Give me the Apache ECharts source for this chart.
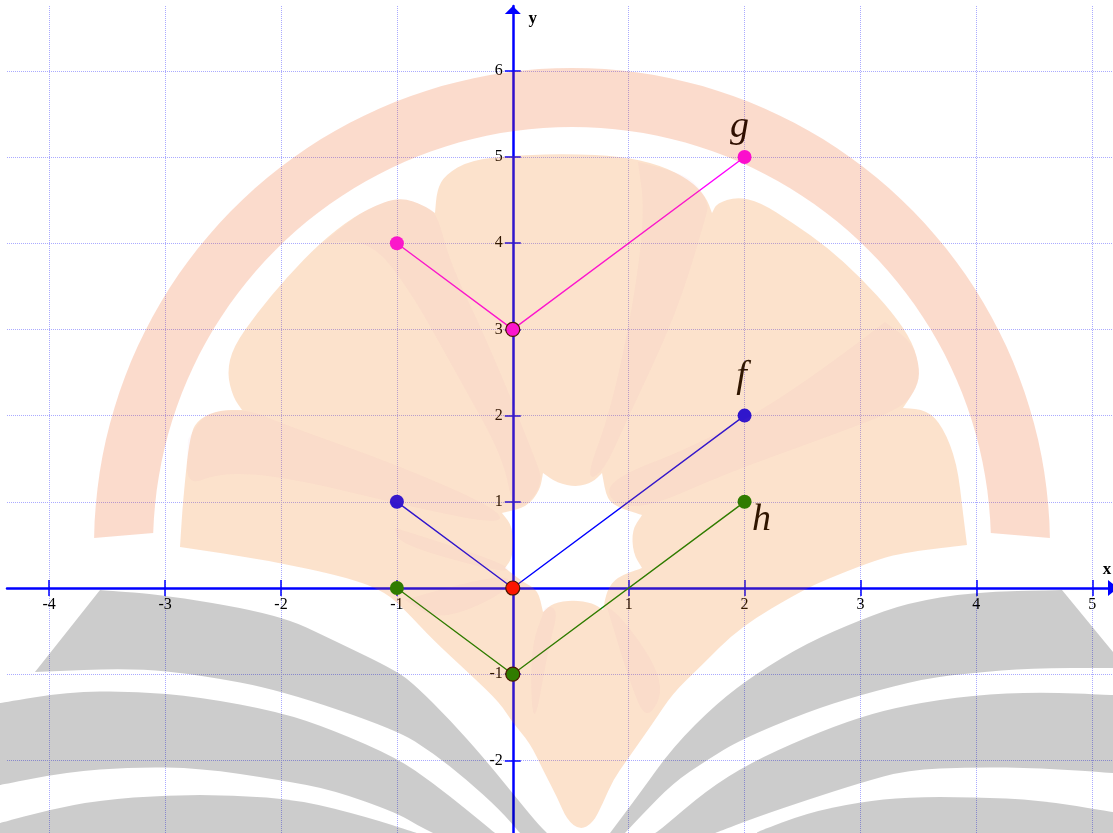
<!DOCTYPE html>
<html>
<head>
<meta charset="utf-8">
<title>f g h</title>
<script src="https://cdn.jsdelivr.net/npm/echarts@6/dist/echarts.min.js"></script>
<style>
    html, body { margin: 0; padding: 0; background: #fff; }
    #main { width: 1113px; height: 833px; overflow: hidden; }
</style>
</head>
<body>
<div id="main"></div>
<script>
// values
const xTicks = [-4, -3, -2, -1, 1, 2, 3, 4, 5]
const yTicks = [-2, -1, 1, 2, 3, 4, 5, 6]
const pointX = [-1, 0, 2]
const gValues = [4, 3, 5]
const fValues = [1, 0, 2]
const hValues = [0, -1, 1]

// axis window, grid edges fall between the integers
const xMin = -4.364, xMax = 5.179
const yMin = -2.842, yMax = 6.752

// watermark outlines, in page pixels. It lies over the chart like a translucent image
const fanOutline = [
    [180, 547], [180, 547], [183, 500], [190, 433], [200, 418], [220, 410], [242, 410], [242, 410],
    [233, 397], [227, 373], [233, 347], [257, 313], [287, 277], [320, 243], [353, 217], [383, 202],
    [403, 198], [423, 205], [435, 213], [435, 213], [437, 190], [445, 175], [470, 160], [520, 155],
    [570, 154], [620, 156], [660, 165], [690, 180], [706, 197], [712, 213], [712, 213], [717, 203],
    [737, 197], [760, 202], [793, 223], [827, 247], [860, 277], [893, 313], [913, 343], [920, 370],
    [917, 387], [903, 408], [903, 408], [927, 410], [943, 427], [957, 463], [963, 513], [967, 545],
    [967, 545], [900, 553], [868, 563], [830, 578], [803, 590], [740, 627], [700, 667], [673, 693],
    [653, 723], [627, 760], [613, 780], [603, 803], [593, 823], [580, 830], [567, 820], [557, 797],
    [543, 770], [530, 743], [512, 722], [500, 703], [473, 677], [433, 640], [405, 610], [385, 592],
    [350, 578], [267, 560], [180, 547]
]
const fanHole = [
    [543, 473], [543, 473], [540, 490], [527, 507], [502, 513], [502, 513], [513, 527], [513, 557],
    [505, 568], [505, 568], [523, 582], [538, 590], [543, 612], [543, 612], [553, 603], [573, 600],
    [593, 603], [603, 610], [603, 610], [607, 590], [617, 577], [642, 568], [642, 568], [633, 553],
    [632, 530], [642, 515], [642, 515], [620, 508], [607, 500], [602, 473], [602, 473], [593, 482],
    [577, 487], [557, 483], [543, 473]
]
const fanFolds = [
    [[188, 440], [200, 417], [222, 410], [253, 411], [280, 423], [403, 467], [500, 510], [500, 525], [403, 505], [287, 477], [220, 472], [186, 487]],
    [[323, 243], [353, 217], [383, 202], [403, 198], [423, 205], [437, 213], [450, 263], [490, 347], [537, 463], [542, 480], [533, 500], [513, 510], [503, 457], [460, 380], [410, 290], [370, 240]],
    [[638, 162], [680, 172], [700, 187], [708, 205], [707, 213], [677, 313], [627, 420], [603, 473], [585, 480], [610, 413], [633, 307], [645, 213]],
    [[885, 322], [793, 393], [693, 447], [612, 478], [607, 500], [643, 510], [727, 473], [827, 437], [903, 408], [917, 387], [920, 370], [913, 343]],
    [[545, 608], [560, 603], [548, 650], [533, 735], [530, 650]],
    [[607, 607], [620, 613], [667, 683], [647, 723], [630, 683]],
    [[405, 600], [505, 570], [512, 590], [440, 622]],
    [[395, 528], [505, 562], [510, 575], [400, 545]]
]
const bookBands = [
    [[35, 672], [35, 672], [100, 590], [100, 590], [167, 595], [280, 615], [333, 640], [397, 671], [417, 687], [450, 720], [483, 757], [510, 790], [537, 823], [547, 833], [547, 833],
     [520, 833], [520, 833], [500, 810], [467, 780], [433, 753], [397, 730], [280, 690], [200, 675], [133, 668], [35, 672]],
    [[0, 703], [0, 703], [67, 692], [133, 691], [200, 697], [280, 712], [333, 730], [397, 758], [433, 783], [467, 810], [495, 833], [495, 833],
     [433, 833], [433, 833], [417, 825], [397, 813], [333, 790], [280, 780], [200, 768], [133, 767], [67, 772], [0, 785], [0, 785]],
    [[0, 823], [0, 823], [48, 810], [100, 800], [167, 795], [233, 795], [300, 800], [367, 817], [417, 833], [417, 833], [0, 833], [0, 833]],
    [[1062, 590], [1062, 590], [973, 592], [907, 603], [860, 620], [807, 643], [757, 673], [717, 703], [673, 747], [640, 793], [610, 833], [610, 833],
     [625, 833], [625, 833], [640, 817], [673, 783], [707, 760], [740, 740], [807, 712], [860, 695], [927, 678], [973, 673], [1030, 668], [1113, 668], [1113, 668], [1113, 652], [1113, 652]],
    [[1113, 695], [1113, 695], [1040, 692], [973, 695], [907, 705], [860, 717], [807, 737], [750, 763], [707, 790], [660, 830], [655, 833], [655, 833],
     [715, 833], [715, 833], [757, 817], [807, 800], [860, 783], [907, 770], [973, 767], [1040, 768], [1113, 773], [1113, 773]],
    [[1113, 812], [1113, 812], [1040, 800], [973, 797], [907, 797], [860, 802], [807, 813], [757, 832], [757, 833], [757, 833], [1113, 833], [1113, 833]]
]

function outlinePath(points) {
    let d = `M${points[0][0]} ${points[0][1]}`
    for (let i = 1; i < points.length - 1; i++) {
        const mx = (points[i][0] + points[i + 1][0]) / 2
        const my = (points[i][1] + points[i + 1][1]) / 2
        d += ` Q${points[i][0]} ${points[i][1]} ${mx} ${my}`
    }
    const last = points[points.length - 1]
    return d + ` L${last[0]} ${last[1]} Z`
}

function ringPath(cx, cy, outer, inner, outerDrop, innerDrop) {
    const pts = []
    const a0 = Math.asin(outerDrop / outer), a1 = Math.asin(innerDrop / inner)
    for (let i = 0; i <= 90; i++) {
        const a = Math.PI + a0 + (Math.PI - 2 * a0) * i / 90
        pts.push([cx + outer * Math.cos(a), cy + outer * Math.sin(a)])
    }
    for (let i = 90; i >= 0; i--) {
        const a = Math.PI + a1 + (Math.PI - 2 * a1) * i / 90
        pts.push([cx + inner * Math.cos(a), cy + inner * Math.sin(a)])
    }
    return 'M' + pts.map(p => p[0].toFixed(1) + ' ' + p[1].toFixed(1)).join(' L') + ' Z'
}

function overlay(pathData, fill) {
    return { type: 'path', shape: { pathData: pathData }, style: { fill: fill } }
}

const watermark = [
    overlay(ringPath(572, 546, 478, 419, 8, 13), 'rgba(235,75,0,0.2)'),
    overlay(outlinePath(fanOutline) + ' ' + outlinePath(fanHole), 'rgba(240,110,0,0.2)')
]
fanFolds.forEach(fold => {
    watermark.push(overlay(outlinePath(fold.concat([fold[0]])), 'rgba(212,85,143,0.04)'))
})
bookBands.forEach(band => {
    watermark.push(overlay(outlinePath(band), 'rgba(0,0,0,0.2)'))
})

const labelFont = { fontFamily: 'Liberation Serif', fontSize: 16, color: '#000' }
const gridDots = { color: '#aaaaff', width: 1, type: [1, 1] }
const blueLine = { color: '#0000ff', width: 2.5 }
const blueTick = { color: '#0000ff', width: 1.5 }

function lineSeries(name, values, color, vertexColor, labelOffset) {
    return {
        name: name,
        type: 'line',
        showAllSymbol: true,
        symbol: 'circle',
        symbolSize: 14,
        lineStyle: { color: color, width: 1.4 },
        itemStyle: { color: color },
        data: values.map((v, i) => {
            const item = { value: [pointX[i], v] }
            if (i === 1) {
                item.itemStyle = { color: vertexColor, borderColor: '#200', borderWidth: 1.2 }
            }
            if (i === 2) {
                item.label = {
                    show: true,
                    formatter: name,
                    position: 'inside',
                    offset: labelOffset,
                    fontFamily: 'Liberation Serif',
                    fontStyle: 'italic',
                    fontSize: 38,
                    color: '#000'
                }
            }
            return item
        })
    }
}

const chart = echarts.init(document.querySelector('#main'), null, { renderer: 'canvas' })

chart.setOption({
    animation: false,
    backgroundColor: '#fff',
    grid: { left: 7, top: 6, width: 1106, height: 827, outerBoundsMode: 'none' },
    xAxis: [
        {
            type: 'value',
            min: xMin,
            max: xMax,
            position: 'bottom',
            offset: -245,
            name: 'x',
            nameLocation: 'end',
            nameGap: -6,
            nameMoveOverlap: false,
            nameTextStyle: { fontFamily: 'Liberation Serif', fontWeight: 'bold', fontSize: 17, color: '#000', align: 'center', verticalAlign: 'bottom', padding: [0, 0, 10, 0] },
            axisLine: { onZero: false, lineStyle: blueLine, symbol: ['none', 'triangle'], symbolSize: [16, 10] },
            axisTick: { customValues: xTicks, length: 8, lineStyle: blueTick },
            axisLabel: { customValues: xTicks, margin: 9, showMinLabel: true, showMaxLabel: true, ...labelFont },
            splitLine: { show: true, lineStyle: gridDots }
        },
        {
            // upper half of the crossing ticks
            type: 'value',
            min: xMin,
            max: xMax,
            position: 'top',
            offset: -582,
            axisLine: { onZero: false, show: false },
            axisTick: { customValues: xTicks, length: 8, lineStyle: blueTick },
            axisLabel: { show: false },
            splitLine: { show: false }
        }
    ],
    yAxis: [
        {
            type: 'value',
            min: yMin,
            max: yMax,
            position: 'left',
            offset: -505.8,
            name: 'y',
            nameLocation: 'end',
            nameGap: -21,
            nameMoveOverlap: false,
            nameTextStyle: { fontFamily: 'Liberation Serif', fontWeight: 'bold', fontSize: 17, color: '#000', padding: [0, 0, 0, 40] },
            axisLine: { onZero: false, lineStyle: blueLine, symbol: ['none', 'triangle'], symbolSize: [16, 8], symbolOffset: [0, -4] },
            axisTick: { customValues: yTicks, length: 8, lineStyle: blueTick },
            axisLabel: { customValues: yTicks, margin: 10, padding: [3, 0, 0, 0], showMinLabel: true, showMaxLabel: true, ...labelFont },
            splitLine: { show: true, lineStyle: gridDots }
        },
        {
            type: 'value',
            min: yMin,
            max: yMax,
            position: 'right',
            offset: -600.2,
            axisLine: { onZero: false, show: false },
            axisTick: { customValues: yTicks, length: 8, lineStyle: blueTick },
            axisLabel: { show: false },
            splitLine: { show: false }
        }
    ],
    series: [
        lineSeries('g', gValues, '#ff00ff', '#ff00ff', [-5, -30]),
        lineSeries('f', fValues, '#0000ff', '#ff0000', [-3, -39]),
        lineSeries('h', hValues, '#008000', '#008000', [17, 18]),
        {
            // the logo on top of everything
            type: 'custom',
            coordinateSystem: 'none',
            silent: true,
            z: 100,
            data: [0],
            renderItem: function () {
                return { type: 'group', children: watermark }
            }
        }
    ]
})
</script>
</body>
</html>
